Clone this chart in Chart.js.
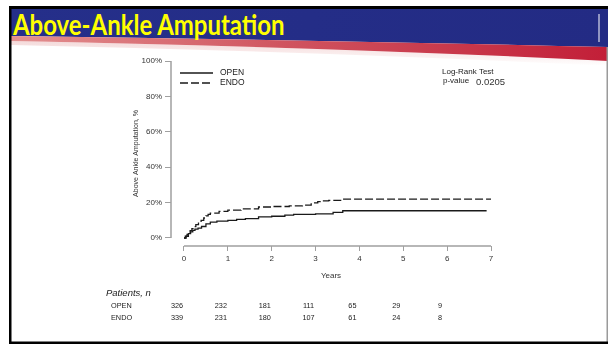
<!DOCTYPE html>
<html>
<head>
<meta charset="utf-8">
<script src="https://cdn.jsdelivr.net/npm/chart.js@4.4.1/dist/chart.umd.min.js"></script>
<style>
  html, body { margin: 0; padding: 0; background: #fff; }
  #slide { position: relative; width: 608px; height: 344px; overflow: hidden; background: #fff; }
  #hdr { position: absolute; left: 0; top: 0; }
  #title { position: absolute; left: 13px; top: 6.5px; font: bold 28px Lato, "Open Sans", sans-serif; color: #ffff00; white-space: nowrap; transform: scaleX(0.855); transform-origin: 0 0; }
  #myChart { position: absolute; left: 0; top: 0; }
</style>
</head>
<body>
<div id="slide">
  <svg id="hdr" width="608" height="344">
    <defs>
      <linearGradient id="redg" x1="0" x2="1" y1="0" y2="0">
        <stop offset="0" stop-color="#e39090"/>
        <stop offset="0.45" stop-color="#d05560"/>
        <stop offset="1" stop-color="#c21f38"/>
      </linearGradient>
      <linearGradient id="blueg" x1="0" x2="1" y1="0" y2="0">
        <stop offset="0" stop-color="#252f8a"/>
        <stop offset="1" stop-color="#232b84"/>
      </linearGradient>
      <linearGradient id="fadeg" x1="0" x2="0" y1="0" y2="1">
        <stop offset="0" stop-color="#f4dada"/>
        <stop offset="1" stop-color="#ffffff"/>
      </linearGradient>
    </defs>
    <path d="M11 41 Q330 47 608 61 V66 Q330 52 11 45 Z" fill="url(#fadeg)"/>
    <rect x="9" y="6" width="599" height="3" fill="#000"/>
    <path d="M11 9 H608 V47 Q320 40 11 36 Z" fill="url(#blueg)"/>
    <path d="M11 36 Q320 40 608 47 V61 Q330 47 11 41 Z" fill="url(#redg)"/>
    <rect x="598.5" y="14" width="1" height="28" fill="#fff"/>
    <rect x="9" y="6" width="2.5" height="338" fill="#000"/>
    <rect x="606.5" y="47" width="1.5" height="297" fill="#9a9a9a"/>
    <rect x="9" y="341.5" width="599" height="2.5" fill="#000"/>
  </svg>
  <div id="title">Above-Ankle Amputation</div>
  <canvas id="myChart" width="608" height="344"></canvas>
</div>
<script>
// axis ticks
const years = [0, 1, 2, 3, 4, 5, 6, 7];
const yTicks = [0, 20, 40, 60, 80, 100];
const seriesNames = ['OPEN', 'ENDO'];

// Kaplan-Meier curves (years, cumulative %)
const openX = [0, 0.05, 0.1, 0.15, 0.2, 0.25, 0.32, 0.4, 0.5, 0.6, 0.75, 1.0, 1.2, 1.4, 1.7, 2.0, 2.3, 2.5, 3.0, 3.4, 3.62, 6.9];
const openY = [0, 1, 2.5, 3.5, 4.3, 5, 5.6, 6.5, 8, 9, 9.5, 10, 10.5, 11, 11.9, 12.3, 12.9, 13.4, 13.6, 14.5, 15.4, 15.4];
const endoX = [0, 0.03, 0.07, 0.1, 0.14, 0.18, 0.22, 0.27, 0.33, 0.39, 0.45, 0.5, 0.55, 0.6, 0.8, 1.0, 1.3, 1.7, 2.0, 2.4, 2.7, 2.9, 3.05, 3.14, 3.3, 3.6, 7.0];
const endoY = [0, 1, 2, 3, 4.2, 5.3, 6.4, 7.6, 8.8, 10, 11.3, 12.5, 13.3, 14, 15, 15.8, 16.5, 17.5, 17.8, 18.2, 18.6, 19.8, 20.5, 21, 21.3, 22, 22];

// patients at risk
const atRiskOpen = [326, 232, 181, 111, 65, 29, 9];
const atRiskEndo = [339, 231, 180, 107, 61, 24, 8];

const pValue = '0.0205';

const FONT = '"Liberation Sans", Arial, sans-serif';

const extras = {
    id: 'extras',
    afterDraw(chart) {
        const {ctx, chartArea} = chart;
        const x = chart.scales.x, y = chart.scales.y;
        ctx.save();

        // detached R-style axis lines
        ctx.strokeStyle = '#a0a0a0';
        ctx.lineWidth = 1.5;
        ctx.beginPath();
        ctx.moveTo(chartArea.left, y.getPixelForValue(yTicks[0]));
        ctx.lineTo(chartArea.left, y.getPixelForValue(yTicks[yTicks.length - 1]));
        ctx.moveTo(x.getPixelForValue(years[0]), chartArea.bottom);
        ctx.lineTo(x.getPixelForValue(years[years.length - 1]), chartArea.bottom);
        ctx.stroke();

        // legend
        ctx.strokeStyle = '#1a1a1a';
        ctx.lineWidth = 1.3;
        ctx.fillStyle = '#222';
        ctx.font = '8.5px ' + FONT;
        ctx.textBaseline = 'middle';
        ctx.textAlign = 'left';
        seriesNames.forEach((name, i) => {
            const ly = 73 + i * 10;
            ctx.setLineDash(i === 0 ? [] : [8, 3]);
            ctx.beginPath();
            ctx.moveTo(180, ly);
            ctx.lineTo(213, ly);
            ctx.stroke();
            ctx.fillText(name, 220, ly);
        });
        ctx.setLineDash([]);

        // log-rank note
        ctx.font = '8px ' + FONT;
        ctx.fillText('Log-Rank Test', 442, 72);
        ctx.fillText('p-value', 443, 81);
        ctx.font = '9.5px ' + FONT;
        ctx.fillStyle = '#333';
        ctx.fillText(pValue, 476, 82.5);

        // at-risk table
        ctx.fillStyle = '#222';
        ctx.font = 'italic 9.5px ' + FONT;
        ctx.fillText('Patients, n', 106, 293);
        ctx.font = '7.3px ' + FONT;
        const rows = [atRiskOpen, atRiskEndo];
        rows.forEach((row, r) => {
            const ry = 306 + r * 12;
            ctx.textAlign = 'left';
            ctx.fillText(seriesNames[r], 111, ry);
            ctx.textAlign = 'center';
            row.forEach((n, i) => {
                ctx.fillText(String(n), x.getPixelForValue(years[i]) - 7, ry);
            });
        });
        ctx.restore();
    }
};

const ctx = document.getElementById('myChart').getContext('2d');
const myChart = new Chart(ctx, {
    type: 'line',
    data: {
        datasets: [{
            label: seriesNames[0],
            data: openX.map((v, i) => ({x: v, y: openY[i]})),
            borderColor: '#1a1a1a',
            borderWidth: 1.3,
            pointRadius: 0,
            stepped: 'before',
            fill: false
        }, {
            label: seriesNames[1],
            data: endoX.map((v, i) => ({x: v, y: endoY[i]})),
            borderColor: '#1a1a1a',
            borderWidth: 1.3,
            borderDash: [8, 3],
            pointRadius: 0,
            stepped: 'before',
            fill: false
        }]
    },
    options: {
        responsive: false,
        animation: false,
        events: [],
        layout: {
            padding: {left: 128, top: 61, right: 117, bottom: 59}
        },
        plugins: {
            legend: {display: false},
            tooltip: {enabled: false}
        },
        scales: {
            x: {
                type: 'linear',
                min: -0.2964,
                max: 7,
                afterBuildTicks: (s) => { s.ticks = years.map(v => ({value: v})); },
                afterFit: (s) => { s.height = 39; },
                grid: {drawOnChartArea: false, tickLength: 5, color: '#a0a0a0', lineWidth: 1},
                border: {display: false},
                ticks: {font: {size: 8, family: FONT}, color: '#333', padding: 3, maxRotation: 0},
                title: {display: true, text: 'Years', font: {size: 8, family: FONT}, color: '#333', padding: {top: 4, bottom: 4}}
            },
            y: {
                type: 'linear',
                min: -4.52,
                max: 100,
                afterBuildTicks: (s) => { s.ticks = yTicks.map(v => ({value: v})); },
                afterFit: (s) => { s.width = 43; },
                grid: {drawOnChartArea: false, tickLength: 6, color: '#a0a0a0', lineWidth: 1},
                border: {display: false},
                ticks: {font: {size: 8, family: FONT}, color: '#333', padding: 3, callback: (v) => v + '%'},
                title: {display: true, text: 'Above Ankle Amputation, %', font: {size: 7, family: FONT}, color: '#333', padding: {top: 4, bottom: 4}}
            }
        }
    },
    plugins: [extras]
});
</script>
</body>
</html>
